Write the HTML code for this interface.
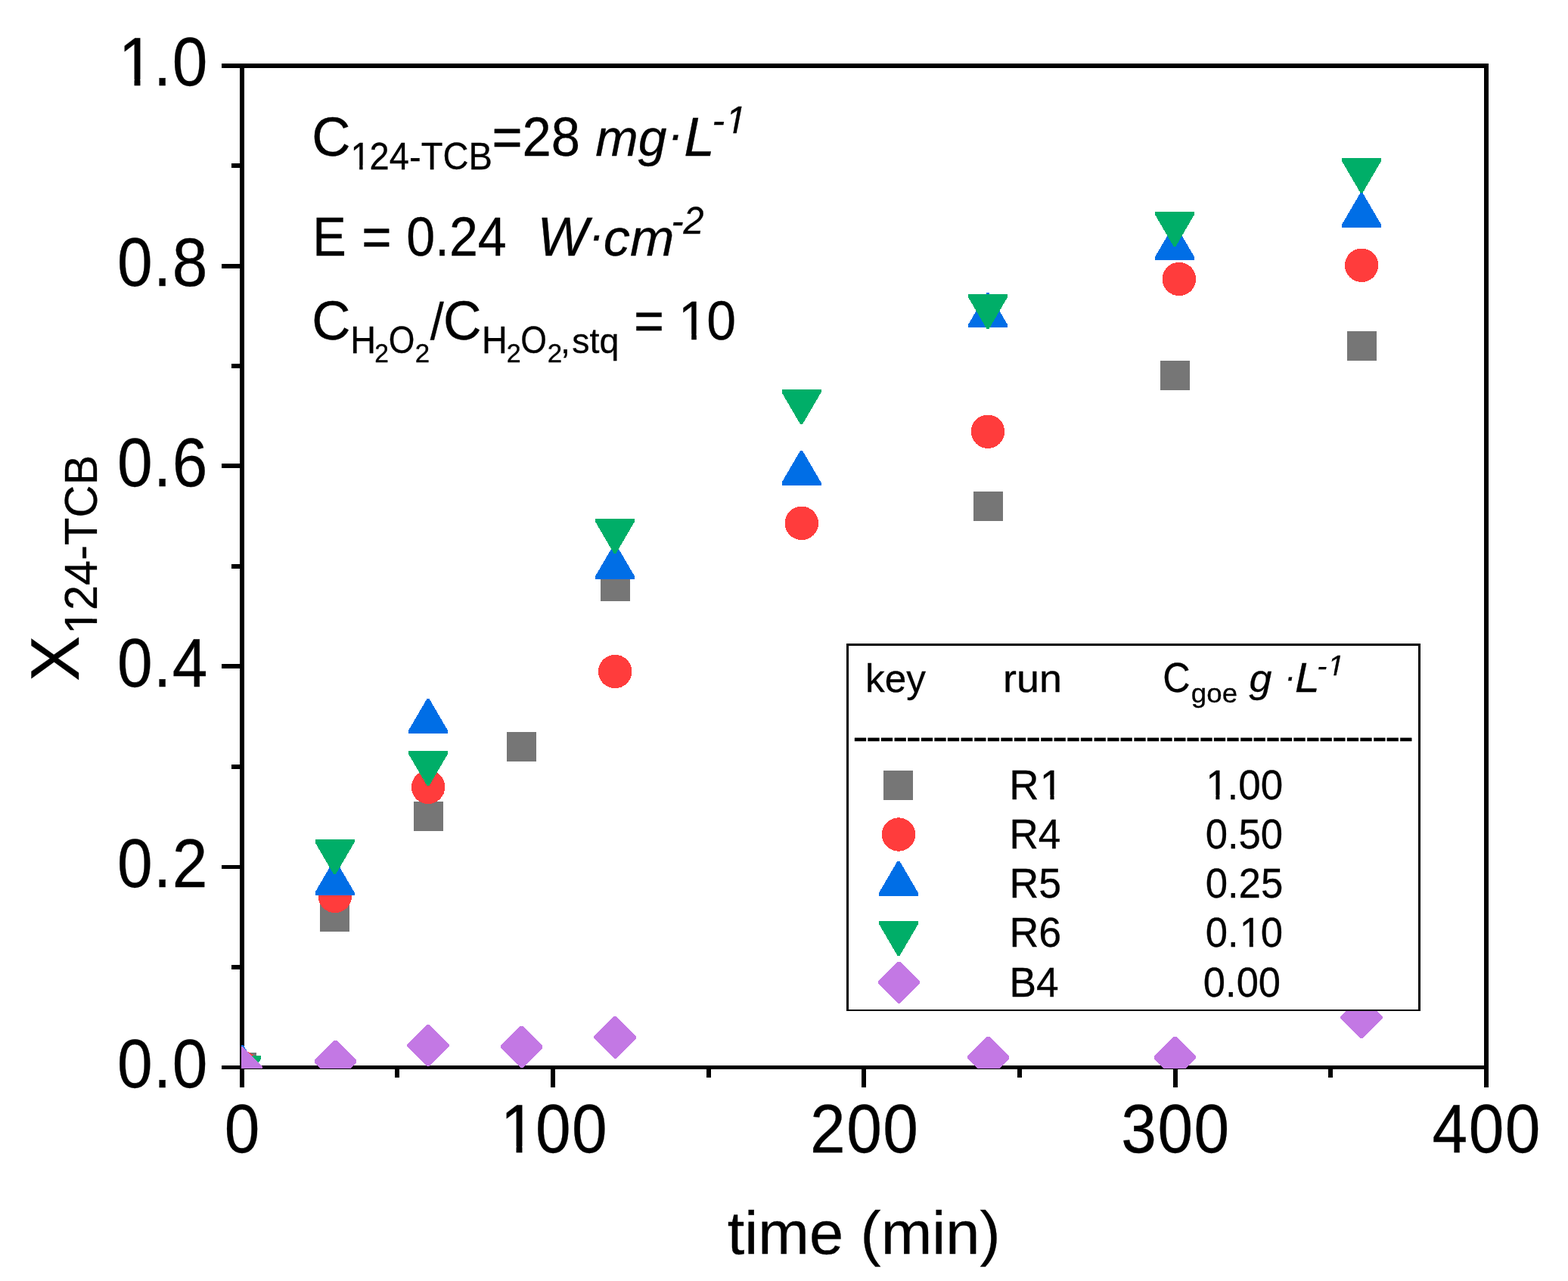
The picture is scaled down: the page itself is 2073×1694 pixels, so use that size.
<!DOCTYPE html>
<html lang="en"><head><meta charset="utf-8"><title>X124-TCB vs time</title>
<style>html,body{margin:0;padding:0;background:#fff;}body{width:2073px;height:1694px;overflow:hidden;}svg{display:block;}text{font-family:"Liberation Sans",Arial,Helvetica,sans-serif;fill:#000;font-kerning:none;white-space:pre;stroke:#000;stroke-width:0.3px;}</style>
</head><body>
<svg width="2073" height="1694" viewBox="0 0 2073 1694" role="img" aria-label="Conversion of 124-TCB versus time">
<defs><clipPath id="plot"><rect x="319" y="85" width="1648" height="1328"/></clipPath></defs>
<rect x="0" y="0" width="2073" height="1694" fill="#fff"/>
<g fill="#000" shape-rendering="crispEdges">
<rect x="317" y="84" width="6" height="1330"/>
<rect x="1962" y="84" width="6" height="1354"/>
<rect x="293" y="84" width="1675" height="6"/>
<rect x="293" y="1409" width="1675" height="5"/>
<rect x="306" y="1276" width="13" height="6"/>
<rect x="293" y="1144" width="26" height="5"/>
<rect x="306" y="1011" width="13" height="6"/>
<rect x="293" y="878" width="26" height="6"/>
<rect x="306" y="746" width="13" height="6"/>
<rect x="293" y="613" width="26" height="6"/>
<rect x="306" y="481" width="13" height="6"/>
<rect x="293" y="349" width="26" height="6"/>
<rect x="306" y="216" width="13" height="6"/>
<rect x="317" y="1411" width="6" height="27"/>
<rect x="522" y="1411" width="6" height="14"/>
<rect x="728" y="1411" width="6" height="27"/>
<rect x="934" y="1411" width="6" height="14"/>
<rect x="1139" y="1411" width="6" height="27"/>
<rect x="1345" y="1411" width="6" height="14"/>
<rect x="1551" y="1411" width="6" height="27"/>
<rect x="1756" y="1411" width="6" height="14"/>
</g>
<g clip-path="url(#plot)" shape-rendering="crispEdges">
<rect x="299.8" y="1392.0" width="39" height="39" fill="#767676"/>
<rect x="423.0" y="1192.7" width="39" height="39" fill="#767676"/>
<rect x="546.5" y="1060.0" width="39" height="39" fill="#767676"/>
<rect x="670.0" y="967.5" width="39" height="39" fill="#767676"/>
<rect x="793.5" y="755.7" width="39" height="39" fill="#767676"/>
<rect x="1287.0" y="649.9" width="39" height="39" fill="#767676"/>
<rect x="1533.9" y="476.9" width="39" height="39" fill="#767676"/>
<rect x="1780.5" y="437.7" width="39" height="39" fill="#767676"/>
<circle cx="319.5" cy="1411.5" r="22.2" fill="#ff3c3c"/>
<circle cx="442.9" cy="1185.0" r="22.2" fill="#ff3c3c"/>
<circle cx="566.1" cy="1040.9" r="22.2" fill="#ff3c3c"/>
<circle cx="813.1" cy="888.0" r="22.2" fill="#ff3c3c"/>
<circle cx="1059.9" cy="691.9" r="22.2" fill="#ff3c3c"/>
<circle cx="1306.0" cy="570.7" r="22.2" fill="#ff3c3c"/>
<circle cx="1558.9" cy="369.0" r="22.2" fill="#ff3c3c"/>
<circle cx="1800.1" cy="350.8" r="22.2" fill="#ff3c3c"/>
<polygon points="318.8,1382.0 321.8,1382.0 346.3,1424.0 346.3,1428.0 294.3,1428.0 294.3,1424.0" fill="#006ee6"/>
<polygon points="441.0,1138.0 444.0,1138.0 468.5,1180.0 468.5,1184.0 416.5,1184.0 416.5,1180.0" fill="#006ee6"/>
<polygon points="564.5,924.0 567.5,924.0 592.0,966.0 592.0,970.0 540.0,970.0 540.0,966.0" fill="#006ee6"/>
<polygon points="811.5,720.0 814.5,720.0 839.0,762.0 839.0,766.0 787.0,766.0 787.0,762.0" fill="#006ee6"/>
<polygon points="1058.0,596.0 1061.0,596.0 1085.5,638.0 1085.5,642.0 1033.5,642.0 1033.5,638.0" fill="#006ee6"/>
<polygon points="1304.5,387.3 1307.5,387.3 1332.0,429.3 1332.0,433.3 1280.0,433.3 1280.0,429.3" fill="#006ee6"/>
<polygon points="1551.5,297.7 1554.5,297.7 1579.0,339.7 1579.0,343.7 1527.0,343.7 1527.0,339.7" fill="#006ee6"/>
<polygon points="1798.5,255.0 1801.5,255.0 1826.0,297.0 1826.0,301.0 1774.0,301.0 1774.0,297.0" fill="#006ee6"/>
<polygon points="293.0,1396.0 345.0,1396.0 345.0,1400.0 320.5,1442.0 317.5,1442.0 293.0,1400.0" fill="#00ae68"/>
<polygon points="416.5,1110.0 468.5,1110.0 468.5,1114.0 444.0,1156.0 441.0,1156.0 416.5,1114.0" fill="#00ae68"/>
<polygon points="540.0,993.0 592.0,993.0 592.0,997.0 567.5,1039.0 564.5,1039.0 540.0,997.0" fill="#00ae68"/>
<polygon points="787.0,685.8 839.0,685.8 839.0,689.8 814.5,731.8 811.5,731.8 787.0,689.8" fill="#00ae68"/>
<polygon points="1033.5,515.0 1085.5,515.0 1085.5,519.0 1061.0,561.0 1058.0,561.0 1033.5,519.0" fill="#00ae68"/>
<polygon points="1280.0,389.0 1332.0,389.0 1332.0,393.0 1307.5,435.0 1304.5,435.0 1280.0,393.0" fill="#00ae68"/>
<polygon points="1527.0,279.8 1579.0,279.8 1579.0,283.8 1554.5,325.8 1551.5,325.8 1527.0,283.8" fill="#00ae68"/>
<polygon points="1774.0,209.0 1826.0,209.0 1826.0,213.0 1801.5,255.0 1798.5,255.0 1774.0,213.0" fill="#00ae68"/>
<polygon points="317.5,1384.1 320.5,1384.1 346.7,1410.3 346.7,1413.3 320.5,1439.5 317.5,1439.5 291.3,1413.3 291.3,1410.3" fill="#c378e4"/>
<polygon points="442.0,1375.8 445.0,1375.8 471.2,1402.0 471.2,1405.0 445.0,1431.2 442.0,1431.2 415.8,1405.0 415.8,1402.0" fill="#c378e4"/>
<polygon points="564.6,1354.7 567.6,1354.7 593.8,1380.9 593.8,1383.9 567.6,1410.1 564.6,1410.1 538.4,1383.9 538.4,1380.9" fill="#c378e4"/>
<polygon points="688.2,1356.8 691.2,1356.8 717.4,1383.0 717.4,1386.0 691.2,1412.2 688.2,1412.2 662.0,1386.0 662.0,1383.0" fill="#c378e4"/>
<polygon points="811.6,1344.2 814.6,1344.2 840.8,1370.4 840.8,1373.4 814.6,1399.6 811.6,1399.6 785.4,1373.4 785.4,1370.4" fill="#c378e4"/>
<polygon points="1305.1,1370.7 1308.1,1370.7 1334.3,1396.9 1334.3,1399.9 1308.1,1426.1 1305.1,1426.1 1278.9,1399.9 1278.9,1396.9" fill="#c378e4"/>
<polygon points="1551.9,1370.7 1554.9,1370.7 1581.1,1396.9 1581.1,1399.9 1554.9,1426.1 1551.9,1426.1 1525.7,1399.9 1525.7,1396.9" fill="#c378e4"/>
<polygon points="1798.5,1317.8 1801.5,1317.8 1827.7,1344.0 1827.7,1347.0 1801.5,1373.2 1798.5,1373.2 1772.3,1347.0 1772.3,1344.0" fill="#c378e4"/>
</g>
<g>
<text transform="translate(154.89 1437.60) scale(0.9700 1.0500)" font-size="86.40" style="letter-spacing:1.486px">0.0</text>
<text transform="translate(154.89 1172.70) scale(0.9700 1.0500)" font-size="86.40" style="letter-spacing:1.486px">0.2</text>
<text transform="translate(154.89 907.80) scale(0.9700 1.0500)" font-size="86.40" style="letter-spacing:1.486px">0.4</text>
<text transform="translate(154.89 642.90) scale(0.9700 1.0500)" font-size="86.40" style="letter-spacing:1.486px">0.6</text>
<text transform="translate(154.89 378.00) scale(0.9700 1.0500)" font-size="86.40" style="letter-spacing:1.486px">0.8</text>
<g transform="translate(154.89 113.10) scale(0.9700 1.0500)"><text font-size="86.40" style="letter-spacing:1.486px" dx="1.9 -1.9 0">1.0</text><polygon fill="#fff" points="6.54,-7.85 23.37,-7.85 23.37,4.64 6.54,4.64"/><polygon fill="#fff" points="31.51,-7.85 47.46,-7.85 47.46,4.64 31.51,4.64"/></g>
<text transform="translate(296.67 1524.00) scale(0.9700 1.0500)" font-size="86.40" style="letter-spacing:1.486px">0</text>
<g transform="translate(659.87 1524.00) scale(0.9700 1.0500)"><text font-size="86.40" style="letter-spacing:1.486px" dx="1.9 -1.9 0">100</text><polygon fill="#fff" points="6.54,-7.85 23.37,-7.85 23.37,4.64 6.54,4.64"/><polygon fill="#fff" points="31.51,-7.85 47.46,-7.85 47.46,4.64 31.51,4.64"/></g>
<text transform="translate(1071.12 1524.00) scale(0.9700 1.0500)" font-size="86.40" style="letter-spacing:1.486px">200</text>
<text transform="translate(1482.37 1524.00) scale(0.9700 1.0500)" font-size="86.40" style="letter-spacing:1.486px">300</text>
<text transform="translate(1893.62 1524.00) scale(0.9700 1.0500)" font-size="86.40" style="letter-spacing:1.486px">400</text>
<text transform="translate(961.67 1657.80) scale(1.0000 0.9800)" font-size="81.20">time (min)</text>
<text transform="translate(412.30 205.50) scale(1.0365 1.0625)" font-size="68.40">C</text>
<g transform="translate(462.44 224.00) scale(1.0057 1.0560)"><text font-size="46.80" dx="1.03 -1.03 0 0 0 0 0">124-TCB</text><polygon fill="#fff" points="3.54,-4.90 12.66,-4.90 12.66,2.51 3.54,2.51"/><polygon fill="#fff" points="17.07,-4.90 25.71,-4.90 25.71,2.51 17.07,2.51"/></g>
<text transform="translate(650.44 205.50) scale(1.0053 1.0625)" font-size="68.40">=28</text>
<text transform="translate(787.27 205.50) scale(0.9927 1.0000)" font-size="68.40" font-style="italic">mg</text>
<text x="882.68" y="198.43" font-size="62.00" font-style="italic">·</text>
<text transform="translate(904.25 205.50) scale(1.0687 1.0625)" font-size="68.40" font-style="italic">L</text>
<g transform="translate(941.44 176.30) scale(1.0668 1.0560)"><text font-size="46.80" font-style="italic" dx="0 1.03">-1</text><polygon fill="#fff" points="16.38,2.51 17.82,-4.90 26.96,-4.90 25.53,2.51"/><polygon fill="#fff" points="29.71,2.51 31.14,-4.90 39.92,-4.90 39.01,2.51"/></g>
<text transform="translate(413.32 338.10) scale(0.9765 1.0625)" font-size="68.40">E</text>
<text transform="translate(478.31 338.10) scale(0.9840 1.0625)" font-size="68.40">=</text>
<text transform="translate(537.14 338.10) scale(0.9957 1.0625)" font-size="68.40">0.24</text>
<text transform="translate(710.44 338.10) scale(1.0418 1.0625)" font-size="68.40" font-style="italic">W</text>
<text x="778.18" y="330.73" font-size="62.00" font-style="italic">·</text>
<text transform="translate(797.80 338.10) scale(1.0260 1.0000)" font-size="68.40" font-style="italic">cm</text>
<text transform="translate(887.42 308.70) scale(1.0356 1.0560)" font-size="46.80" font-style="italic">-2</text>
<text transform="translate(412.30 448.50) scale(1.0365 1.0625)" font-size="68.40">C</text>
<text transform="translate(463.26 466.80) scale(1.0000 1.0560)" font-size="46.80">H</text>
<text transform="translate(495.31 479.00) scale(1.0366 1.0632)" font-size="32.40">2</text>
<text transform="translate(513.69 466.80) scale(0.9516 1.0560)" font-size="46.80">O</text>
<text transform="translate(548.74 479.00) scale(1.0772 1.0632)" font-size="32.40">2</text>
<text transform="translate(568.70 448.50) scale(0.9472 1.0000)" font-size="68.40">/</text>
<text transform="translate(586.05 448.50) scale(1.0227 1.0625)" font-size="68.40">C</text>
<text transform="translate(636.96 466.80) scale(1.0000 1.0560)" font-size="46.80">H</text>
<text transform="translate(669.79 479.00) scale(1.0501 1.0632)" font-size="32.40">2</text>
<text transform="translate(688.19 466.80) scale(0.9516 1.0560)" font-size="46.80">O</text>
<text transform="translate(723.84 479.00) scale(1.0772 1.0632)" font-size="32.40">2</text>
<text x="741.10" y="466.80" font-size="46.80">,</text>
<text transform="translate(756.20 466.80) scale(0.9942 1.0000)" font-size="46.80">stq</text>
<text transform="translate(838.05 448.50) scale(1.0021 1.0625)" font-size="68.40">=</text>
<g transform="translate(895.36 448.50) scale(1.0195 1.0625)"><text font-size="68.40" dx="1.5 -1.5">10</text><polygon fill="#fff" points="5.18,-6.51 18.50,-6.51 18.50,3.67 5.18,3.67"/><polygon fill="#fff" points="24.95,-6.51 37.57,-6.51 37.57,3.67 24.95,3.67"/></g>
<g transform="translate(104.2 899.4) rotate(-90)"><text transform="translate(-1.52 0.00) scale(1.0432 1.0615)" font-size="86.40">X</text><g transform="translate(59.27 24.10) scale(1.0054 1.0400)"><text font-size="59.20" dx="1.3 -1.3 0 0 0 0 0">124-TCB</text><polygon fill="#fff" points="4.48,-5.82 16.01,-5.82 16.01,3.18 4.48,3.18"/><polygon fill="#fff" points="21.59,-5.82 32.52,-5.82 32.52,3.18 21.59,3.18"/></g></g>
</g>
<g>
<g shape-rendering="crispEdges"><rect x="1119" y="851" width="759" height="486" fill="#000"/><rect x="1122" y="854" width="753" height="481" fill="#fff"/></g>
<g shape-rendering="crispEdges">
<rect x="1168" y="1019" width="39" height="39" fill="#767676"/>
<circle cx="1188" cy="1103.5" r="22.2" fill="#ff3c3c"/>
<polygon points="1186.5,1138.8 1189.5,1138.8 1214.0,1180.8 1214.0,1184.8 1162.0,1184.8 1162.0,1180.8" fill="#006ee6"/>
<polygon points="1162.0,1217.9 1214.0,1217.9 1214.0,1221.9 1189.5,1263.9 1186.5,1263.9 1162.0,1221.9" fill="#00ae68"/>
<polygon points="1187.0,1271.8 1190.0,1271.8 1216.1,1297.9 1216.1,1300.9 1190.0,1327.0 1187.0,1327.0 1160.9,1300.9 1160.9,1297.9" fill="#c378e4"/>
</g>
<text transform="translate(1144.04 915.30) scale(0.9710 0.9850)" font-size="52.85">key</text>
<text transform="translate(1326.12 915.30) scale(1.0195 0.9850)" font-size="52.85">run</text>
<text transform="translate(1537.24 915.30) scale(0.9531 1.0396)" font-size="52.85">C</text>
<text transform="translate(1574.86 928.70) scale(1.0386 0.9850)" font-size="35.30">goe</text>
<text transform="translate(1651.50 915.30) scale(1.0165 0.9850)" font-size="52.85" font-style="italic">g</text>
<text x="1698.54" y="908.67" font-size="43.00" font-style="italic">·</text>
<text transform="translate(1712.09 915.30) scale(1.1131 1.0396)" font-size="52.85" font-style="italic">L</text>
<g transform="translate(1741.28 893.30) scale(1.1144 1.0400)"><text font-size="35.30" font-style="italic" dx="0 0.78">-1</text><polygon fill="#fff" points="12.36,1.90 13.51,-4.04 20.40,-4.04 19.25,1.90"/><polygon fill="#fff" points="22.41,1.90 23.56,-4.04 30.11,-4.04 29.42,1.90"/></g>
<text transform="translate(1127.17 992.00) scale(1.1625 1.0300)" font-size="52.85" style="letter-spacing:-2.460px">------------------------------------------</text>
<g transform="translate(1334.33 1056.90) scale(1.0311 1.0396)"><text font-size="52.85" dx="0 1.16">R1</text><polygon fill="#fff" points="42.17,-5.35 52.46,-5.35 52.46,2.84 42.17,2.84"/><polygon fill="#fff" points="57.44,-5.35 67.20,-5.35 67.20,2.84 57.44,2.84"/></g>
<g transform="translate(1593.04 1056.90) scale(1.0026 1.0396)"><text font-size="52.85" dx="1.16 -1.16 0 0">1.00</text><polygon fill="#fff" points="4.00,-5.35 14.30,-5.35 14.30,2.84 4.00,2.84"/><polygon fill="#fff" points="19.28,-5.35 29.03,-5.35 29.03,2.84 19.28,2.84"/></g>
<text transform="translate(1334.44 1122.00) scale(1.0053 1.0396)" font-size="52.85">R4</text>
<text transform="translate(1593.64 1122.00) scale(0.9966 1.0396)" font-size="52.85">0.50</text>
<text transform="translate(1334.39 1186.80) scale(1.0163 1.0396)" font-size="52.85">R5</text>
<text transform="translate(1593.64 1186.80) scale(0.9982 1.0396)" font-size="52.85">0.25</text>
<text transform="translate(1334.39 1251.90) scale(1.0180 1.0396)" font-size="52.85">R6</text>
<g transform="translate(1593.64 1251.90) scale(0.9966 1.0396)"><text font-size="52.85" dx="0 0 1.16 -1.16">0.10</text><polygon fill="#fff" points="48.08,-5.35 58.37,-5.35 58.37,2.84 48.08,2.84"/><polygon fill="#fff" points="63.35,-5.35 73.11,-5.35 73.11,2.84 63.35,2.84"/></g>
<text transform="translate(1334.43 1317.70) scale(1.0075 1.0396)" font-size="52.85">B4</text>
<text transform="translate(1590.85 1317.70) scale(0.9936 1.0396)" font-size="52.85">0.00</text>
</g>
</svg>
</body></html>
